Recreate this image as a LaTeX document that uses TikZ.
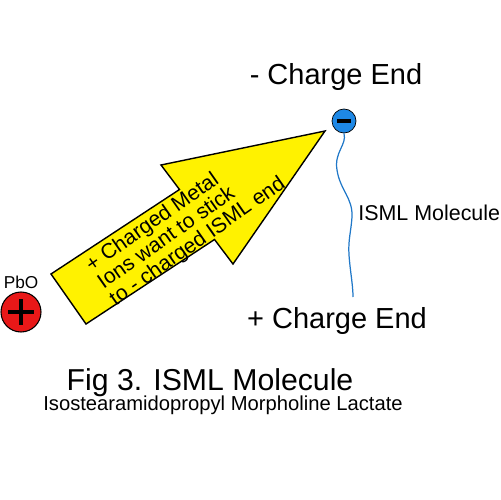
\documentclass[tikz,border=0pt]{standalone}
\usepackage{fontspec}
\setmainfont{Liberation Sans}
\definecolor{ionred}{RGB}{232,24,24}
\definecolor{ionblue}{RGB}{30,136,229}
\definecolor{tailblue}{RGB}{32,120,200}
\begin{document}
\begin{tikzpicture}[x=0.02cm,y=-0.02cm,
		ion/.style={circle,draw=black,line width=0.6pt,inner sep=0pt},
		sign/.style={line width=2.2pt,black},
		label/.style={inner sep=0pt,font=\fontsize{#1}{#1}\selectfont}
	]
	\useasboundingbox (0,0) rectangle (500,500);
	% the arrow
	\draw[fill=yellow,line width=0.8pt,line join=miter] (51,274) -- (179.5,189.5) -- (161,165) -- (325,131)
		-- (233,264) -- (214.5,239.5) -- (86,324) -- cycle;
	\node[rotate=35,align=left,inner sep=0pt,font=\fontsize{12}{11.8}\selectfont] (msg) at (186,225)
		{+ Charged Metal\\Ions want to stick\\to - charged ISML end};
	% PbO ion
	\node[ion,fill=ionred,minimum size=40*0.02cm] (pbo) at (21,312) {};
	\draw[sign] (pbo.center) +(-13,0) -- +(13,0);
	\draw[sign] (pbo.center) +(0,-13) -- +(0,13);
	\node[label=9.8] (pbotext) at (21,282) {PbO};
	% the molecule
	\node[ion,fill=ionblue,line width=0.4pt,minimum size=24*0.02cm] (neg) at (344,121) {};
	\draw[sign,line width=1.8pt] (neg.center) +(-7,0) -- +(7,0);
	\coordinate (pos) at (353,297);
	\draw[tailblue,line width=0.7pt] (neg.south) .. controls (347,145) and (334,152) .. (337,170)
		.. controls (340,190) and (353,198) .. (352,217)
		.. controls (351,232) and (348,240) .. (349,255)
		.. controls (350,270) and (353,285) .. (pos);
	\node[label=12.2,anchor=west] (isml) at (358,213) {ISML Molecule};
	\node[label=16.5] (negend) at (336,77) {- Charge End};
	\node[label=16.5] (posend) at (337,321) {+ Charge End};
	% caption
	\node[label=17.2] (fig) at (210,383) {Fig 3. ISML Molecule};
	\node[label=11.5] (sub) at (223,405) {Isostearamidopropyl Morpholine Lactate};
\end{tikzpicture}
\end{document}
